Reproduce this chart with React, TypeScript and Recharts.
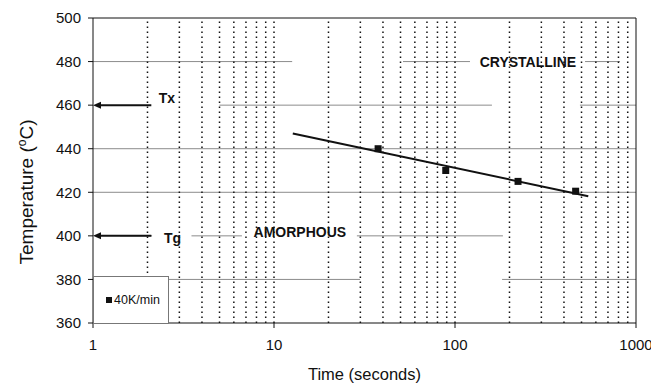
import {
  ComposedChart,
  Scatter,
  XAxis,
  YAxis,
  ReferenceLine,
  ReferenceDot,
  Legend,
  Label,
} from "recharts";

const FONT = "'Liberation Sans', Arial, Helvetica, sans-serif";

// axes
const timeTicks = [1, 10, 100, 1000];
const tempTicks = [360, 380, 400, 420, 440, 460, 480, 500];
const minorTimes = [
  2, 3, 4, 5, 6, 7, 8, 9, 10, 20, 30, 40, 50, 60, 70, 80, 90, 100, 200, 300,
  400, 500, 600, 700, 800, 900,
];

// measured samples (40 K/min)
const seriesName = "40K/min";
const sampleTimes = [37.6, 88.9, 223, 464];
const sampleTemps = [440, 430, 425, 420.5];

// fitted line ends
const fitTimes = [12.7, 545];
const fitTemps = [447, 418.2];

// the scanned gridlines only survive in pieces: [temp, fromTime, toTime]
const gridPieces: [number, number, number][] = [
  [480, 1, 12.6],
  [480, 51.6, 121],
  [480, 523, 816],
  [460, 5, 160],
  [460, 490, 1000],
  [440, 1, 1000],
  [420, 1, 1000],
  [400, 1.41, 2.12],
  [400, 3.5, 6.65],
  [400, 28.7, 184],
  [380, 2.6, 29.9],
  [380, 182, 1000],
];

// Tx / Tg arrows, pointing at the temperature axis
const arrowTemps = [460, 400];
const arrowFrom = 2.1;

// text written on the plot
const noteTexts = ["Tx", "Tg", "AMORPHOUS", "CRYSTALLINE"];
const noteTimes = [2.56, 2.75, 13.9, 253];
const noteTemps = [463.3, 399.2, 401.8, 479.8];

const points = sampleTimes.map((t, i) => ({ t, temp: sampleTemps[i] }));

const Square = (props: any) => {
  const { cx, cy } = props;
  return <rect x={cx - 3.5} y={cy - 3.5} width={7} height={7} fill="#111" />;
};

const Arrow = (props: any) => {
  const { x1, y1, x2, y2 } = props;
  const tip = Math.min(x1, x2);
  const tail = Math.max(x1, x2);
  const y = (y1 + y2) / 2;
  return (
    <g>
      <line x1={tail} y1={y} x2={tip + 6} y2={y} stroke="#111" strokeWidth={2} />
      <polygon
        points={`${tip},${y} ${tip + 8},${y - 3.5} ${tip + 8},${y + 3.5}`}
        fill="#111"
      />
    </g>
  );
};

// rotated axis title with a raised "o"
const YTitle = () => {
  const x = 25;
  const y = 184;
  return (
    <text
      x={x}
      y={y}
      transform={`rotate(-90, ${x}, ${y})`}
      textAnchor="middle"
      fontFamily={FONT}
      fontSize={19}
      fill="#111"
    >
      Temperature (<tspan dy={-7} fontSize={12}>o</tspan>
      <tspan dy={7}>C)</tspan>
    </text>
  );
};

const LegendBox = (props: any) => {
  const item = props.payload && props.payload[0];
  return (
    <div
      style={{
        display: "flex",
        alignItems: "center",
        height: "100%",
        paddingLeft: 12,
        fontFamily: FONT,
        fontSize: 12.5,
        color: "#111",
      }}
    >
      <span
        style={{
          display: "inline-block",
          width: 6,
          height: 6,
          background: "#111",
          marginRight: 2,
        }}
      />
      {item ? item.value : seriesName}
    </div>
  );
};

export default function App() {
  return (
    <ComposedChart
      width={651}
      height={376}
      margin={{ top: 10, right: 23, bottom: 0, left: 0 }}
      style={{ fontFamily: FONT }}
    >
      <XAxis
        dataKey="t"
        type="number"
        scale="log"
        domain={[1, 1000]}
        ticks={timeTicks}
        allowDataOverflow
        height={61}
        stroke="#111"
        tickSize={5}
        tickMargin={11}
        tick={{ fill: "#111", fontSize: 15, fontFamily: FONT }}
      >
        <Label
          value="Time (seconds)"
          position="insideBottom"
          offset={4}
          fill="#111"
          fontSize={16.5}
          fontFamily={FONT}
        />
      </XAxis>
      <YAxis
        dataKey="temp"
        type="number"
        domain={[360, 500]}
        ticks={tempTicks}
        allowDataOverflow
        width={85}
        stroke="#111"
        tickSize={5}
        tickMargin={7}
        tick={{ fill: "#111", fontSize: 15, fontFamily: FONT }}
      >
        <Label content={YTitle} />
      </YAxis>

      {gridPieces.map(([temp, from, to], i) => (
        <ReferenceLine
          key={`g-${i}`}
          segment={[
            { x: from, y: temp },
            { x: to, y: temp },
          ]}
          stroke="#8c8c8c"
          strokeWidth={1}
        />
      ))}

      {minorTimes.map((t) => (
        <ReferenceLine
          key={`v-${t}`}
          x={t}
          stroke="#111"
          strokeWidth={1.5}
          strokeDasharray="1.5 3.5"
        />
      ))}

      <ReferenceLine y={500} stroke="#111" strokeWidth={1} />
      <ReferenceLine x={1000} stroke="#111" strokeWidth={1} />

      {arrowTemps.map((temp) => (
        <ReferenceLine
          key={`a-${temp}`}
          segment={[
            { x: arrowFrom, y: temp },
            { x: 1, y: temp },
          ]}
          shape={Arrow}
        />
      ))}

      <ReferenceLine
        segment={[
          { x: fitTimes[0], y: fitTemps[0] },
          { x: fitTimes[1], y: fitTemps[1] },
        ]}
        stroke="#111"
        strokeWidth={2}
      />

      {noteTexts.map((text, i) => (
        <ReferenceDot
          key={text}
          x={noteTimes[i]}
          y={noteTemps[i]}
          r={0}
          fill="none"
          stroke="none"
          label={{
            value: text,
            position: "center",
            fill: "#111",
            fontSize: 14,
            fontWeight: "bold",
            fontFamily: FONT,
          }}
        />
      ))}

      <Scatter
        name={seriesName}
        data={points}
        fill="#111"
        shape={Square}
        isAnimationActive={false}
      />

      <Legend
        layout="vertical"
        align="center"
        verticalAlign="middle"
        content={LegendBox}
        wrapperStyle={{
          left: 85,
          top: 268,
          width: 76,
          height: 48,
          boxSizing: "border-box",
          border: "1px solid #777",
          background: "#fff",
        }}
      />
    </ComposedChart>
  );
}
